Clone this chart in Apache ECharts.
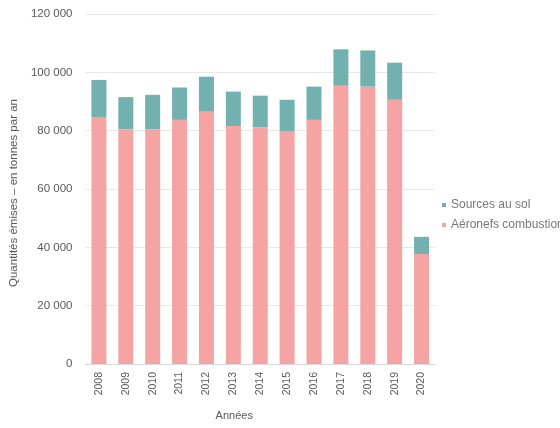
<!DOCTYPE html>
<html><head><meta charset="utf-8">
<script src="https://cdn.jsdelivr.net/npm/echarts@6/dist/echarts.min.js"></script>
<style>html,body{margin:0;padding:0;background:#fff}#c{width:560px;height:428px}</style>
</head><body><div id="c"></div>
<script>
const years = ['2008','2009','2010','2011','2012','2013','2014','2015','2016','2017','2018','2019','2020'];
const aeronefs = [84700,80500,80500,83700,86500,81600,81200,79700,83700,95400,95100,90600,37700];
const solSources = [12700,11000,11800,11100,12000,11800,10800,10900,11400,12500,12400,12700,5900];
const seriesNames = ['Sources au sol','Aéronefs combustion'];
const font = "'Liberation Sans',Arial,sans-serif";
const chart = echarts.init(document.getElementById('c'), null, {renderer:'canvas'});
chart.setOption({
  animation:false,
  textStyle:{fontFamily:font},
  grid:{left:83,right:125,top:14,bottom:64},
  legend:{
    orient:'vertical', left:437, top:194, itemWidth:4, itemHeight:4, itemGap:8,
    icon:'rect',
    textStyle:{fontFamily:font,fontSize:12,color:'#777777'},
    data:seriesNames
  },
  xAxis:{
    type:'category', data:years, name:'Années', nameLocation:'middle', nameGap:46,
    nameTextStyle:{fontFamily:font,fontSize:11,color:'#595959',padding:[0,52,0,0]},
    axisLine:{lineStyle:{color:'#d9d9d9'}}, axisTick:{show:false},
    axisLabel:{rotate:90,fontSize:10.5,color:'#595959',fontFamily:font,margin:8}
  },
  yAxis:{
    type:'value', min:0, max:120000, interval:20000,
    name:'Quantités émises – en tonnes par an', nameLocation:'middle', nameGap:56,
    nameTextStyle:{fontFamily:font,fontSize:11.5,color:'#595959',padding:[0,8,0,0]},
    axisLine:{show:false}, axisTick:{show:false},
    splitLine:{lineStyle:{color:'#e8e8e8'}},
    axisLabel:{fontSize:11.5,color:'#595959',fontFamily:font,margin:13,
      formatter:v=>String(v).replace(/\B(?=(\d{3})+(?!\d))/g,' ')}
  },
  series:[
    {name:'Aéronefs combustion',type:'bar',stack:'t',data:aeronefs,barWidth:15,
     itemStyle:{color:'#f5a3a3'}},
    {name:'Sources au sol',type:'bar',stack:'t',data:solSources,barWidth:15,
     itemStyle:{color:'#73b1b0'}}
  ]
});
</script></body></html>
